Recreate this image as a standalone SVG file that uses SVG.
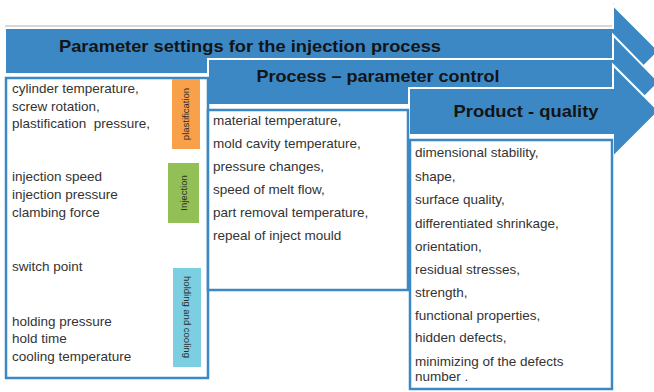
<svg xmlns="http://www.w3.org/2000/svg" width="654" height="392" viewBox="0 0 654 392">
<style>
.arrow{fill:#3b88c4;stroke:#ffffff;stroke-width:2;stroke-linejoin:miter}
.title{font-family:"Liberation Sans",Arial,sans-serif;font-weight:bold;fill:#141414}
.box{fill:#ffffff;stroke:#3b88c4;stroke-width:2.5}
.t{font-family:"Liberation Sans",Arial,sans-serif;font-size:13.5px;fill:#333333}
.lab{font-family:"Liberation Sans",Arial,sans-serif;font-size:9.5px;fill:#2a2a2a}
</style>
<rect width="654" height="392" fill="#ffffff"/>
<g id="arrow-parameter-settings">
<path d="M5,26 H613 V3" fill="none" stroke="#d8d8d8" stroke-width="2"/>
<path class="arrow" d="M5,28 H613 V5 L659,51 L613,97 V74 H5 Z"/>
<text class="title" x="250" y="52" font-size="17" text-anchor="middle" textLength="382" lengthAdjust="spacingAndGlyphs">Parameter settings for the injection process</text>
</g>
<g id="arrow-process-control">
<path class="arrow" d="M208,59 H613 V35 L659,82 L613,129 V105 H208 Z"/>
<text class="title" x="378" y="82" font-size="17" text-anchor="middle" textLength="243" lengthAdjust="spacingAndGlyphs">Process – parameter control</text>
</g>
<g id="arrow-product-quality">
<path class="arrow" d="M409,88 H613 V65 L659,111 L613,157 V135 H409 Z"/>
<text class="title" x="526" y="117" font-size="17" text-anchor="middle" textLength="145" lengthAdjust="spacingAndGlyphs">Product - quality</text>
</g>
<g id="box-parameters">
<rect class="box" x="6" y="78" width="202" height="300"/>
<text class="t" x="12" y="93">cylinder temperature,</text>
<text class="t" x="12" y="111">screw rotation,</text>
<text class="t" x="12" y="128" xml:space="preserve">plastification  pressure,</text>
<text class="t" x="12" y="181">injection speed</text>
<text class="t" x="12" y="199">injection pressure</text>
<text class="t" x="12" y="217">clambing force</text>
<text class="t" x="12" y="271">switch point</text>
<text class="t" x="12" y="326">holding pressure</text>
<text class="t" x="12" y="343">hold time</text>
<text class="t" x="12" y="361">cooling temperature</text>
</g>
<g id="label-plastification">
<rect x="172" y="79" width="28" height="70" fill="#f8a04a"/>
<text class="lab" transform="translate(189,114) rotate(-90)" text-anchor="middle">plastification</text>
</g>
<g id="label-injection">
<rect x="168" y="163" width="31" height="60" fill="#92c057"/>
<text class="lab" transform="translate(187,193) rotate(-90)" text-anchor="middle" font-size="11">Injection</text>
</g>
<g id="label-holding-cooling">
<rect x="173" y="268" width="28" height="99" fill="#7ccfe0"/>
<text class="lab" transform="translate(184,317) rotate(90)" text-anchor="middle">holding and cooling</text>
</g>
<g id="box-process">
<rect class="box" x="208" y="110" width="200" height="180"/>
<text class="t" x="213" y="125">material temperature,</text>
<text class="t" x="213" y="148">mold cavity temperature,</text>
<text class="t" x="213" y="171">pressure changes,</text>
<text class="t" x="213" y="194">speed of melt flow,</text>
<text class="t" x="213" y="217">part removal temperature,</text>
<text class="t" x="213" y="240">repeal of inject mould</text>
</g>
<g id="box-product">
<rect class="box" x="410" y="140" width="202" height="249"/>
<text class="t" x="415" y="157">dimensional stability,</text>
<text class="t" x="415" y="181">shape,</text>
<text class="t" x="415" y="204">surface quality,</text>
<text class="t" x="415" y="228">differentiated shrinkage,</text>
<text class="t" x="415" y="251">orientation,</text>
<text class="t" x="415" y="274">residual stresses,</text>
<text class="t" x="415" y="297">strength,</text>
<text class="t" x="415" y="320">functional properties,</text>
<text class="t" x="415" y="342">hidden defects,</text>
<text class="t" x="415" y="366">minimizing of the defects</text>
<text class="t" x="415" y="381">number .</text>
</g>
<g id="connectors"></g>
</svg>
